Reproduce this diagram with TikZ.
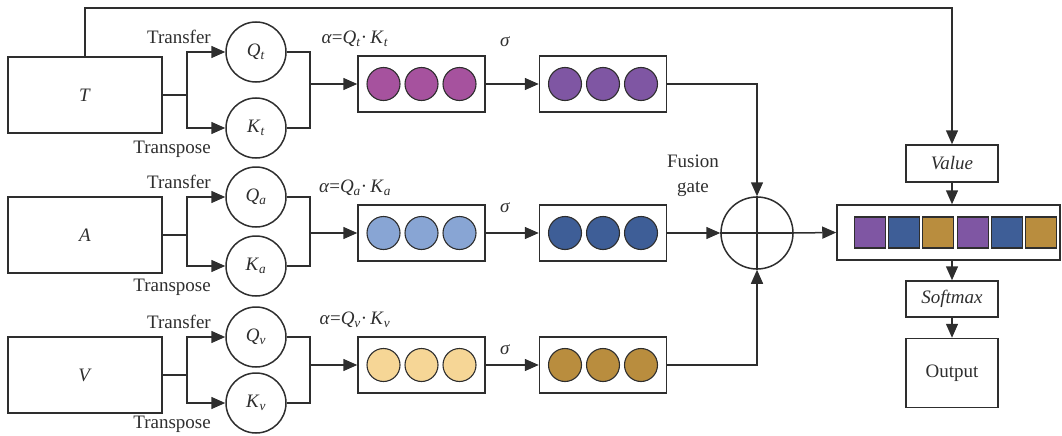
\documentclass[tikz,border=0pt]{standalone}
\usepackage{fontspec}
\setmainfont{Liberation Serif}
\usetikzlibrary{positioning,arrows.meta}

\definecolor{ink}{HTML}{2E2E2E}
\definecolor{tA}{HTML}{A6529E}
\definecolor{tB}{HTML}{7F56A3}
\definecolor{aA}{HTML}{88A5D4}
\definecolor{aB}{HTML}{3E5E97}
\definecolor{vA}{HTML}{F6D696}
\definecolor{vB}{HTML}{B98D3E}

\begin{document}
\begin{tikzpicture}[
    x = 1pt,
    y = -1pt,
    font = \fontsize{19}{25}\selectfont,
    every node/.append style={text = ink},
    line/.style={
        draw = ink,
        line width = 1.5pt
    },
    inbox/.style={
        line,
        minimum width = 154pt,
        minimum height = 76pt
    },
    qk/.style={
        line,
        circle,
        inner sep = 0pt,
        minimum size = 60pt
    },
    seqbox/.style={
        line,
        minimum width = 127pt,
        minimum height = 56pt
    },
    dot/.style={
        draw = ink,
        line width = 1.1pt,
        circle,
        inner sep = 0pt,
        minimum size = 33pt
    },
    sq/.style={
        draw = ink,
        line width = 1.1pt,
        inner sep = 0pt,
        minimum size = 31pt
    },
    opbox/.style={
        line,
        minimum width = 92pt,
        minimum height = 37pt
    },
    plain/.style={
        draw = none,
        fill = none,
        inner sep = 1pt
    },
    >={Triangle[length=14pt,width=12pt]}
]
\useasboundingbox (0,0) rectangle (1062,436);

\foreach \nm/\lab/\yr/\yq/\yk/\yb/\ys/\ca/\cb in
    {t/T/95/52/128/84/42/tA/tB,
     a/A/235/197/266/233/208/aA/aB,
     v/V/375/337/403/365/350/vA/vB}
{
    \node[inbox] (in-\nm) at (85,\yr) {\textit{\lab}};
    \node[qk] (q-\nm) at (256,\yq) {\textit{Q}\textsubscript{\textit{\nm}}};
    \node[qk] (k-\nm) at (256,\yk) {\textit{K}\textsubscript{\textit{\nm}}};
    \node[seqbox] (s1-\nm) at (421.5,\yb) {};
    \node[seqbox] (s2-\nm) at (603,\yb) {};
    \foreach \dx in {-38,0,38}
    {
        \node[dot, fill=\ca, xshift=\dx pt] at (s1-\nm) {};
        \node[dot, fill=\cb, xshift=\dx pt] at (s2-\nm) {};
    }
    \coordinate (br-\nm) at (187,\yr);
    \coordinate (mg-\nm) at (310,\yb);
    \draw[line] (in-\nm.east) -- (br-\nm);
    \draw[line,->] (br-\nm) |- (q-\nm.west);
    \draw[line,->] (br-\nm) |- (k-\nm.west);
    \draw[line] (q-\nm.east) -| (mg-\nm) |- (k-\nm.east);
    \draw[line,->] (mg-\nm) -- (s1-\nm.west);
    \draw[line,->] (s1-\nm.east) -- (s2-\nm.west);
    \node[plain, anchor=east] at (212,{\yq-15}) {Transfer};
    \node[plain, anchor=east] at (212,{\yk+21}) {Transpose};
    \node[plain] at (355,{\yb-45})
        {\textit{α}=\textit{Q}\textsubscript{\textit{\nm}}·\,\textit{K}\textsubscript{\textit{\nm}}};
    \node[plain] at (505,\ys) {\textit{σ}};
}

\node[line, circle, inner sep=0pt, minimum size=72pt] (fuse) at (757,233) {};
\draw[line] (fuse.north) -- (fuse.south);
\draw[line] (fuse.west) -- (fuse.east);
\node[plain, align=center] at (693,176) {Fusion\\gate};

\draw[line,->] (s2-t.east) -| (fuse.north);
\draw[line,->] (s2-a.east) -- (fuse.west);
\draw[line,->] (s2-v.east) -| (fuse.south);

\node[line, minimum width=223pt, minimum height=55pt] (vec) at (948.5,232.5) {};
\foreach \i/\c in {0/tB,1/aB,2/vB,3/tB,4/aB,5/vB}
    \node[sq, fill=\c] at ({870+34.2*\i},232.5) {};
\draw[line,->] (fuse.east) -- (vec.west);

\node[opbox] (value) at (952,163.5) {\textit{Value}};
\node[opbox, minimum height=36pt] (softmax) at (952,299) {\textit{Softmax}};
\node[opbox, below=20pt of softmax, minimum height=69pt] (output) {Output};

\coordinate (top) at (500,8);
\draw[line,->] (in-t.north) |- (top) -| (value.north);
\draw[line,->] (value) -- (value |- vec.north);
\draw[line,->] (value |- vec.south) -- (softmax);
\draw[line,->] (softmax) -- (output);

\end{tikzpicture}
\end{document}
